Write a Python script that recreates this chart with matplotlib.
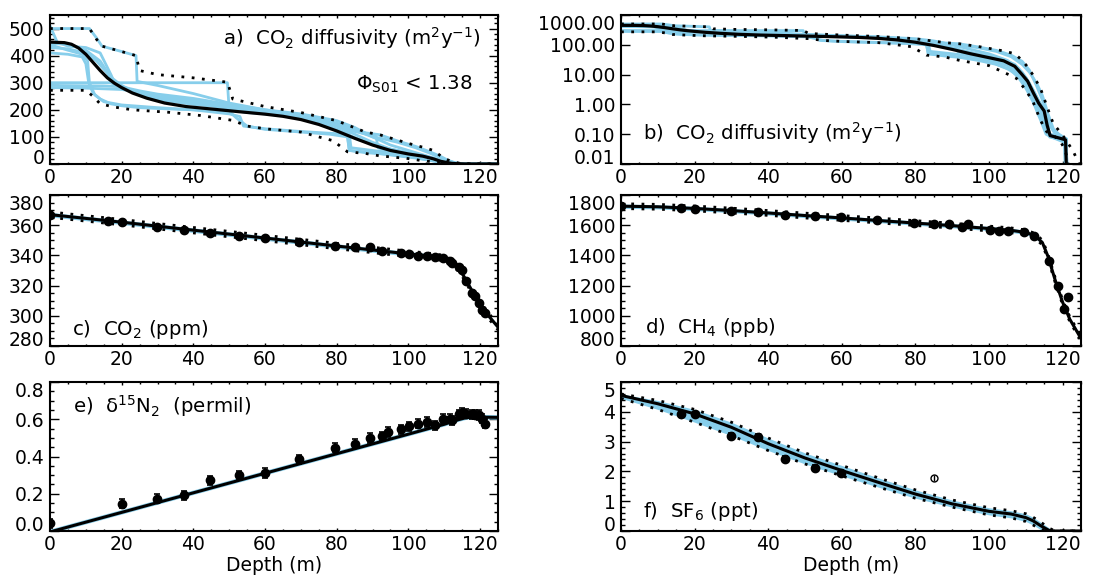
import numpy as np
import matplotlib
matplotlib.use("Agg")
import matplotlib.pyplot as plt
from matplotlib.ticker import FixedLocator, MultipleLocator, LogLocator, NullFormatter, FormatStrFormatter

plt.rcParams['font.family'] = ['DejaVu Sans']
plt.rcParams['mathtext.fontset'] = 'dejavusans'

# ---------------------------------------------------------------- diffusivity
# ensemble mean
dmean_z = [0, 4, 6, 8, 10, 12, 14, 16, 18, 20, 23, 27, 32, 38, 45, 52, 60, 65, 70, 75,
           80, 85, 90, 95, 100, 104, 107, 109, 110.5, 112, 113.5, 115, 115.8, 116.6,
           120.8, 121.1, 125]
dmean_v = [450, 448, 442, 428, 405, 375, 345, 318, 298, 282, 262, 243, 225, 212, 203, 194,
           184, 176, 164, 146, 122, 95, 70, 50, 37, 29, 19, 10, 6, 2.5, 1.1, 0.6, 0.2, 0.09,
           0.065, 0.004, 0.004]
# envelope of the accepted profiles
dup_z = [0, 11, 13, 14.5, 20, 24, 25, 30, 40, 49.5, 51, 60, 70, 80, 88, 92, 97, 100, 104,
         107, 109, 110.5, 112, 114, 116, 117.5, 119.3, 121, 123, 124.3, 125]
dup_v = [500, 500, 460, 435, 415, 400, 345, 330, 318, 302, 240, 212, 190, 160, 118, 108, 88,
         76, 62, 50, 30, 18, 9.5, 3.4, 0.7, 0.22, 0.12, 0.062, 0.025, 0.011, 0.008]
dlo_z = [0, 10, 12, 14, 18, 23, 33, 42, 51, 55, 60, 70, 75, 79, 83, 88, 92, 100, 104, 107.5,
         110, 112, 114, 115.7, 117.5, 119.3, 120.7, 121.5, 122, 125]
dlo_v = [272, 272, 250, 222, 210, 200, 191, 179, 161, 140, 130, 118, 100, 86, 45, 39, 30, 20,
         12, 7.4, 3, 1.2, 0.29, 0.12, 0.09, 0.06, 0.03, 0.01, 0.003, 0.003]
# individual accepted profiles
k1_z = [0, 11, 13, 14.5, 20, 24, 24.3, 30, 40, 50, 60, 70, 80, 88, 92, 97, 102, 106, 109,
        111, 113, 115, 116.5, 118, 121, 121.3, 125]
k1_v = [500, 500, 465, 435, 415, 400, 305, 290, 260, 225, 200, 180, 150, 115, 108, 85, 65,
        45, 28, 14, 4, 1.0, 0.2, 0.1, 0.07, 0.001, 0.001]
k2_z = [0, 49.5, 50, 55, 60, 70, 80, 85, 91, 91.5, 95, 100, 105, 108, 110, 112, 114, 115.5,
        116.5, 120.5, 121, 125]
k2_v = [300, 300, 200, 190, 185, 172, 140, 120, 102, 60, 45, 35, 22, 12, 6, 2, 0.8, 0.15,
        0.09, 0.07, 0.001, 0.001]
k3_z = [0, 5, 9, 10, 10.8, 12, 14, 17, 20, 25, 30, 40, 50, 52, 55, 60, 70, 78, 83, 83.5, 88,
        95, 100, 105, 108, 110, 112, 114, 115.5, 117, 120.5, 121, 125]
k3_v = [410, 405, 395, 370, 300, 262, 240, 222, 215, 208, 205, 200, 195, 170, 140, 128, 118,
        110, 100, 50, 42, 35, 28, 16, 9, 4.5, 1.5, 0.4, 0.12, 0.09, 0.06, 0.001, 0.001]
k4_z = [0, 5, 10, 14, 16, 17, 20, 25, 30, 35, 40, 50, 60, 70, 75, 80, 85, 90, 95, 100, 104,
        107, 109, 111, 113, 114.5, 115.5, 116.5, 121, 121.3, 125]
k4_v = [445, 442, 420, 380, 340, 300, 280, 262, 248, 235, 225, 205, 190, 170, 150, 125, 98,
        72, 55, 42, 32, 22, 12, 5, 1.5, 0.9, 0.3, 0.1, 0.065, 0.001, 0.001]
k5_z = [0, 5, 10, 13, 17, 20, 25, 30, 40, 50, 60, 70, 80, 90, 95, 100, 105, 108, 110, 112,
        114, 115.5, 116.5, 120.8, 121.1, 125]
k5_v = [430, 425, 410, 380, 320, 290, 255, 238, 220, 208, 192, 175, 140, 80, 55, 40, 28, 15,
        8, 3, 1, 0.2, 0.09, 0.06, 0.001, 0.001]
k6_z = [0, 15, 20, 25, 30, 35, 40, 50, 60, 70, 80, 85, 90, 92, 97, 102, 106, 109, 111, 113,
        114.5, 116, 117.5, 119, 121, 121.3, 125]
k6_v = [290, 288, 285, 270, 258, 250, 242, 220, 200, 185, 160, 135, 100, 96, 80, 60, 40, 22,
        12, 5, 2, 0.5, 0.15, 0.1, 0.07, 0.001, 0.001]
k7_z = [0, 10, 20, 25, 30, 40, 50, 60, 70, 80, 90, 95, 100, 105, 108, 110, 112, 114, 115.5,
        116.5, 121, 121.3, 125]
k7_v = [282, 280, 275, 265, 250, 235, 215, 195, 178, 150, 100, 70, 50, 30, 16, 8, 3, 1.0,
        0.25, 0.1, 0.07, 0.001, 0.001]
k8_z = [0, 2, 5, 10, 14, 17, 18, 20, 25, 30, 40, 50, 60, 70, 80, 83.5, 84, 90, 95, 100, 105,
        108, 110, 112, 114, 115.5, 116.5, 121, 121.3, 125]
k8_v = [510, 450, 435, 430, 410, 330, 300, 285, 262, 245, 228, 210, 190, 170, 130, 110, 60,
        50, 42, 32, 20, 10, 5, 2, 0.6, 0.15, 0.08, 0.06, 0.001, 0.001]
k9_z = [0, 5, 9, 10.5, 11, 12.5, 15, 20, 30, 40, 50, 53, 54, 60, 70, 80, 83, 83.5, 90, 97,
        102, 106, 108, 110, 112, 114, 115.5, 117, 121, 121.3, 125]
k9_v = [440, 420, 405, 380, 300, 255, 230, 218, 208, 200, 185, 175, 140, 130, 120, 112, 108,
        50, 42, 30, 22, 14, 8, 3.5, 1.2, 0.3, 0.1, 0.08, 0.05, 0.001, 0.001]

# ---------------------------------------------------------------- firn air samples
sample_z = [0, 16.2, 20, 29.9, 37.3, 44.6, 52.6, 59.9, 69.6, 79.5, 85, 89.2, 92.7, 94.3, 98,
            100.2, 102.8, 105.2, 107.3, 109.6, 111.5, 112.3, 114.2, 114.9, 116.2, 117.8,
            118.7, 119.7, 120.4, 121.4]
nan = np.nan
co2_obs = [367, 363, 361.9, 358.6, 356.8, 355, 352.8, 351.7, 348.7, 346.2, 345.3, 345.8,
           342.9, nan, 341.4, 340.9, 339.8, 339.6, 339.2, 338, 336.1, 334.7, 332.1, 330.3,
           323.3, 314.9, 313.1, 308.3, 303.8, 301.6]
ch4_obs = [1726, 1715, 1708, 1697, 1685, 1670, 1658, 1652, 1635, 1613, 1607, 1607, 1589,
           1607, nan, 1571, 1564, 1562, nan, 1553, nan, 1530, nan, nan, 1366, nan, 1198,
           nan, 1045, 1126]
d15n_obs = [0.042, nan, 0.146, 0.173, 0.191, 0.272, 0.299, 0.311, 0.385, 0.447, 0.469, 0.5,
            0.508, 0.532, 0.546, 0.562, 0.577, 0.586, 0.568, 0.604, 0.604, 0.595, 0.627,
            0.636, 0.63, 0.627, 0.625, 0.622, 0.604, 0.577]
sf6_obs = [nan, 3.94, 3.91, 3.18, 3.16, 2.43, 2.11, 1.94, nan, nan, nan, nan, nan, nan, nan,
           nan, nan, nan, nan, nan, nan, nan, nan, nan, nan, nan, nan, nan, nan, nan]
sf6_flag_z = [85]
sf6_flag_v = [1.79]
co2_err, ch4_err, d15n_err, sf6_err = 0.8, 10, 0.025, 0.1

# ---------------------------------------------------------------- modelled profiles
co2_z = [0, 20, 40, 60, 80, 100, 106, 109, 111, 113, 114.5, 116, 118, 120, 122, 125]
co2_mod = [367, 362, 356.7, 351.5, 346.2, 341, 339.6, 338.6, 336.8, 333.5, 330, 324, 315.5,
           307.5, 301, 292.5]
co2_band, co2_env = 1.5, 1.8
ch4_z = [0, 10, 20, 30, 40, 50, 60, 70, 80, 90, 100, 106, 110, 112.5, 114.5, 116, 118, 120,
         122, 125]
ch4_mod = [1726, 1722, 1711, 1697, 1681, 1664, 1648, 1631, 1614, 1597, 1578, 1566, 1552,
           1530, 1485, 1395, 1235, 1090, 975, 850]
ch4_band, ch4_env = 14, 16
d15n_z = [0, 20, 40, 60, 80, 100, 110, 114, 116, 118, 125]
d15n_mod = [-0.005, 0.1, 0.205, 0.31, 0.415, 0.52, 0.573, 0.598, 0.608, 0.612, 0.61]
sf6_z = [0, 10, 20, 30, 40, 50, 60, 70, 80, 90, 100, 106, 110, 112, 114, 116.6, 118, 125]
sf6_mod = [4.55, 4.27, 3.93, 3.48, 2.93, 2.45, 2.03, 1.63, 1.24, 0.91, 0.66, 0.57, 0.45,
           0.34, 0.18, 0.0, 0.0, 0.0]
sf6_hi = [4.6, 4.38, 4.08, 3.65, 3.12, 2.62, 2.2, 1.78, 1.38, 1.04, 0.78, 0.68, 0.58, 0.46,
          0.3, 0.08, 0.0, 0.0]
sf6_lo = [4.45, 4.08, 3.65, 3.2, 2.7, 2.25, 1.85, 1.47, 1.1, 0.8, 0.54, 0.44, 0.32, 0.2,
          0.05, 0.0, 0.0, 0.0]

# ---------------------------------------------------------------- axes ticks
depth_ticks = [0, 20, 40, 60, 80, 100, 120]
diff_ticks = [0, 100, 200, 300, 400, 500]
diff_log_ticks = [0.01, 0.1, 1, 10, 100, 1000]
co2_ticks = [280, 300, 320, 340, 360, 380]
ch4_ticks = [800, 1000, 1200, 1400, 1600, 1800]
d15n_ticks = [0.0, 0.2, 0.4, 0.6, 0.8]
sf6_ticks = [0, 1, 2, 3, 4, 5]

BLUE = '#87CEEB'
TICK_FS = 13.5
LABEL_FS = 14.2
W, H = 1105, 585
fig = plt.figure(figsize=(W / 100, H / 100), dpi=100)


def panel(x0, top, w, h):
    return fig.add_axes([x0 / W, 1 - (top + h) / H, w / W, h / H])


def frame(ax, yticks, ylim, yminor=None, fmt=None, log=False):
    ax.set_xlim(0, 125)
    ax.xaxis.set_major_locator(FixedLocator(depth_ticks))
    ax.xaxis.set_minor_locator(MultipleLocator(5))
    if log:
        ax.set_yscale('log')
        ax.yaxis.set_minor_locator(LogLocator(base=10, subs=np.arange(2, 10)))
        ax.yaxis.set_minor_formatter(NullFormatter())
    ax.set_ylim(*ylim)
    ax.yaxis.set_major_locator(FixedLocator(yticks))
    if yminor is not None:
        ax.yaxis.set_minor_locator(MultipleLocator(yminor))
    if fmt is not None:
        ax.yaxis.set_major_formatter(FormatStrFormatter(fmt))
    ax.tick_params(which='both', direction='in', top=True, right=True, width=1.0,
                   labelsize=TICK_FS, colors='black')
    ax.tick_params(axis='x', which='major', length=2.2, pad=3)
    ax.tick_params(axis='x', which='minor', length=1.1)
    ax.tick_params(axis='y', which='major', length=6.5, pad=4)
    ax.tick_params(axis='y', which='minor', length=3.2)
    for sp in ax.spines.values():
        sp.set_linewidth(1.5)
    lo, hi = ax.get_ylim()
    for t, lbl in zip(yticks, ax.get_yticklabels()):
        if np.isclose(t, lo):
            lbl.set_va('baseline')
        elif np.isclose(t, hi):
            lbl.set_va('top')


dot = dict(color='black', lw=2.0, linestyle=(0, (1, 2.7)), dash_capstyle='butt')
profiles = [(k1_z, k1_v), (k2_z, k2_v), (k3_z, k3_v), (k4_z, k4_v), (k5_z, k5_v),
            (k6_z, k6_v), (k7_z, k7_v), (k8_z, k8_v), (k9_z, k9_v)]

# a) diffusivity, linear
ax_a = panel(50, 15, 448, 149)
for z, v in profiles:
    ax_a.plot(z, v, color=BLUE, lw=2.0)
ax_a.plot(dup_z, dup_v, **dot)
ax_a.plot(dlo_z, dlo_v, **dot)
ax_a.plot(dmean_z, dmean_v, color='black', lw=2.3)
frame(ax_a, diff_ticks, (0, 550), yminor=20)
ax_a.text(0.962, 0.80, 'a)  CO$_2$ diffusivity (m$^2$y$^{-1}$)', transform=ax_a.transAxes,
          ha='right', va='baseline', fontsize=LABEL_FS)
ax_a.text(0.944, 0.50, 'Φ$_{\\rm S01}$ < 1.38', transform=ax_a.transAxes,
          ha='right', va='baseline', fontsize=LABEL_FS)

# b) diffusivity, log
ax_b = panel(621, 15, 460, 149)
for z, v in profiles:
    ax_b.plot(z, v, color=BLUE, lw=2.0)
ax_b.plot(dup_z, dup_v, **dot)
ax_b.plot(dlo_z, dlo_v, **dot)
ax_b.plot(dmean_z, dmean_v, color='black', lw=2.3)
frame(ax_b, diff_log_ticks, (0.01, 1000), fmt='%.2f', log=True)
ax_b.text(0.048, 0.16, 'b)  CO$_2$ diffusivity (m$^2$y$^{-1}$)', transform=ax_b.transAxes,
          ha='left', va='baseline', fontsize=LABEL_FS)

err_style = dict(fmt='o', color='black', ms=6, capsize=2.2, elinewidth=1.2, capthick=1.2,
                 zorder=5)

# c) CO2
ax_c = panel(50, 195, 448, 151)
co2_m = np.array(co2_mod)
ax_c.fill_between(co2_z, co2_m - co2_band, co2_m + co2_band, color=BLUE, lw=0)
ax_c.plot(co2_z, co2_m + co2_env, **dot)
ax_c.plot(co2_z, co2_m - co2_env, **dot)
ax_c.plot(co2_z, co2_m, color='black', lw=2.2)
ax_c.errorbar(sample_z, co2_obs, yerr=co2_err, **err_style)
frame(ax_c, co2_ticks, (280, 380), yminor=5)
ax_c.text(0.049, 0.073, 'c)  CO$_2$ (ppm)', transform=ax_c.transAxes,
          ha='left', va='baseline', fontsize=LABEL_FS)

# d) CH4
ax_d = panel(621, 195, 460, 151)
ch4_m = np.array(ch4_mod)
ax_d.fill_between(ch4_z, ch4_m - ch4_band, ch4_m + ch4_band, color=BLUE, lw=0)
ax_d.plot(ch4_z, ch4_m + ch4_env, **dot)
ax_d.plot(ch4_z, ch4_m - ch4_env, **dot)
ax_d.plot(ch4_z, ch4_m, color='black', lw=2.2)
ax_d.errorbar(sample_z, ch4_obs, yerr=ch4_err, **err_style)
frame(ax_d, ch4_ticks, (800, 1800), yminor=50)
ax_d.text(0.052, 0.086, 'd)  CH$_4$ (ppb)', transform=ax_d.transAxes,
          ha='left', va='baseline', fontsize=LABEL_FS)

# e) d15N
ax_e = panel(50, 382, 448, 149)
ax_e.plot(d15n_z, d15n_mod, color=BLUE, lw=3.2)
ax_e.plot(d15n_z, d15n_mod, color='black', lw=2.2)
ax_e.errorbar(sample_z, d15n_obs, yerr=d15n_err, **err_style)
frame(ax_e, d15n_ticks, (0.0, 0.8), yminor=0.05, fmt='%.1f')
ax_e.text(0.051, 0.79, 'e)  δ$^{15}$N$_2$  (permil)', transform=ax_e.transAxes,
          ha='left', va='baseline', fontsize=LABEL_FS)
ax_e.set_xlabel('Depth (m)', fontsize=TICK_FS, labelpad=1)

# f) SF6
ax_f = panel(621, 382, 460, 149)
ax_f.fill_between(sf6_z, sf6_lo, sf6_hi, color=BLUE, lw=0)
ax_f.plot(sf6_z, sf6_hi, **dot)
ax_f.plot(sf6_z, sf6_lo, **dot)
ax_f.plot(sf6_z, sf6_mod, color='black', lw=2.2)
ax_f.errorbar(sample_z, sf6_obs, yerr=sf6_err, **err_style)
ax_f.errorbar(sf6_flag_z, sf6_flag_v, yerr=sf6_err, fmt='o', color='black', mfc='none',
              ms=5, capsize=0, elinewidth=1.0, mew=1.0, zorder=5)
frame(ax_f, sf6_ticks, (0, 5), yminor=0.2)
ax_f.text(0.048, 0.094, 'f)  SF$_6$ (ppt)', transform=ax_f.transAxes,
          ha='left', va='baseline', fontsize=LABEL_FS)
ax_f.set_xlabel('Depth (m)', fontsize=TICK_FS, labelpad=1)

fig.savefig('out.png', dpi=100)
